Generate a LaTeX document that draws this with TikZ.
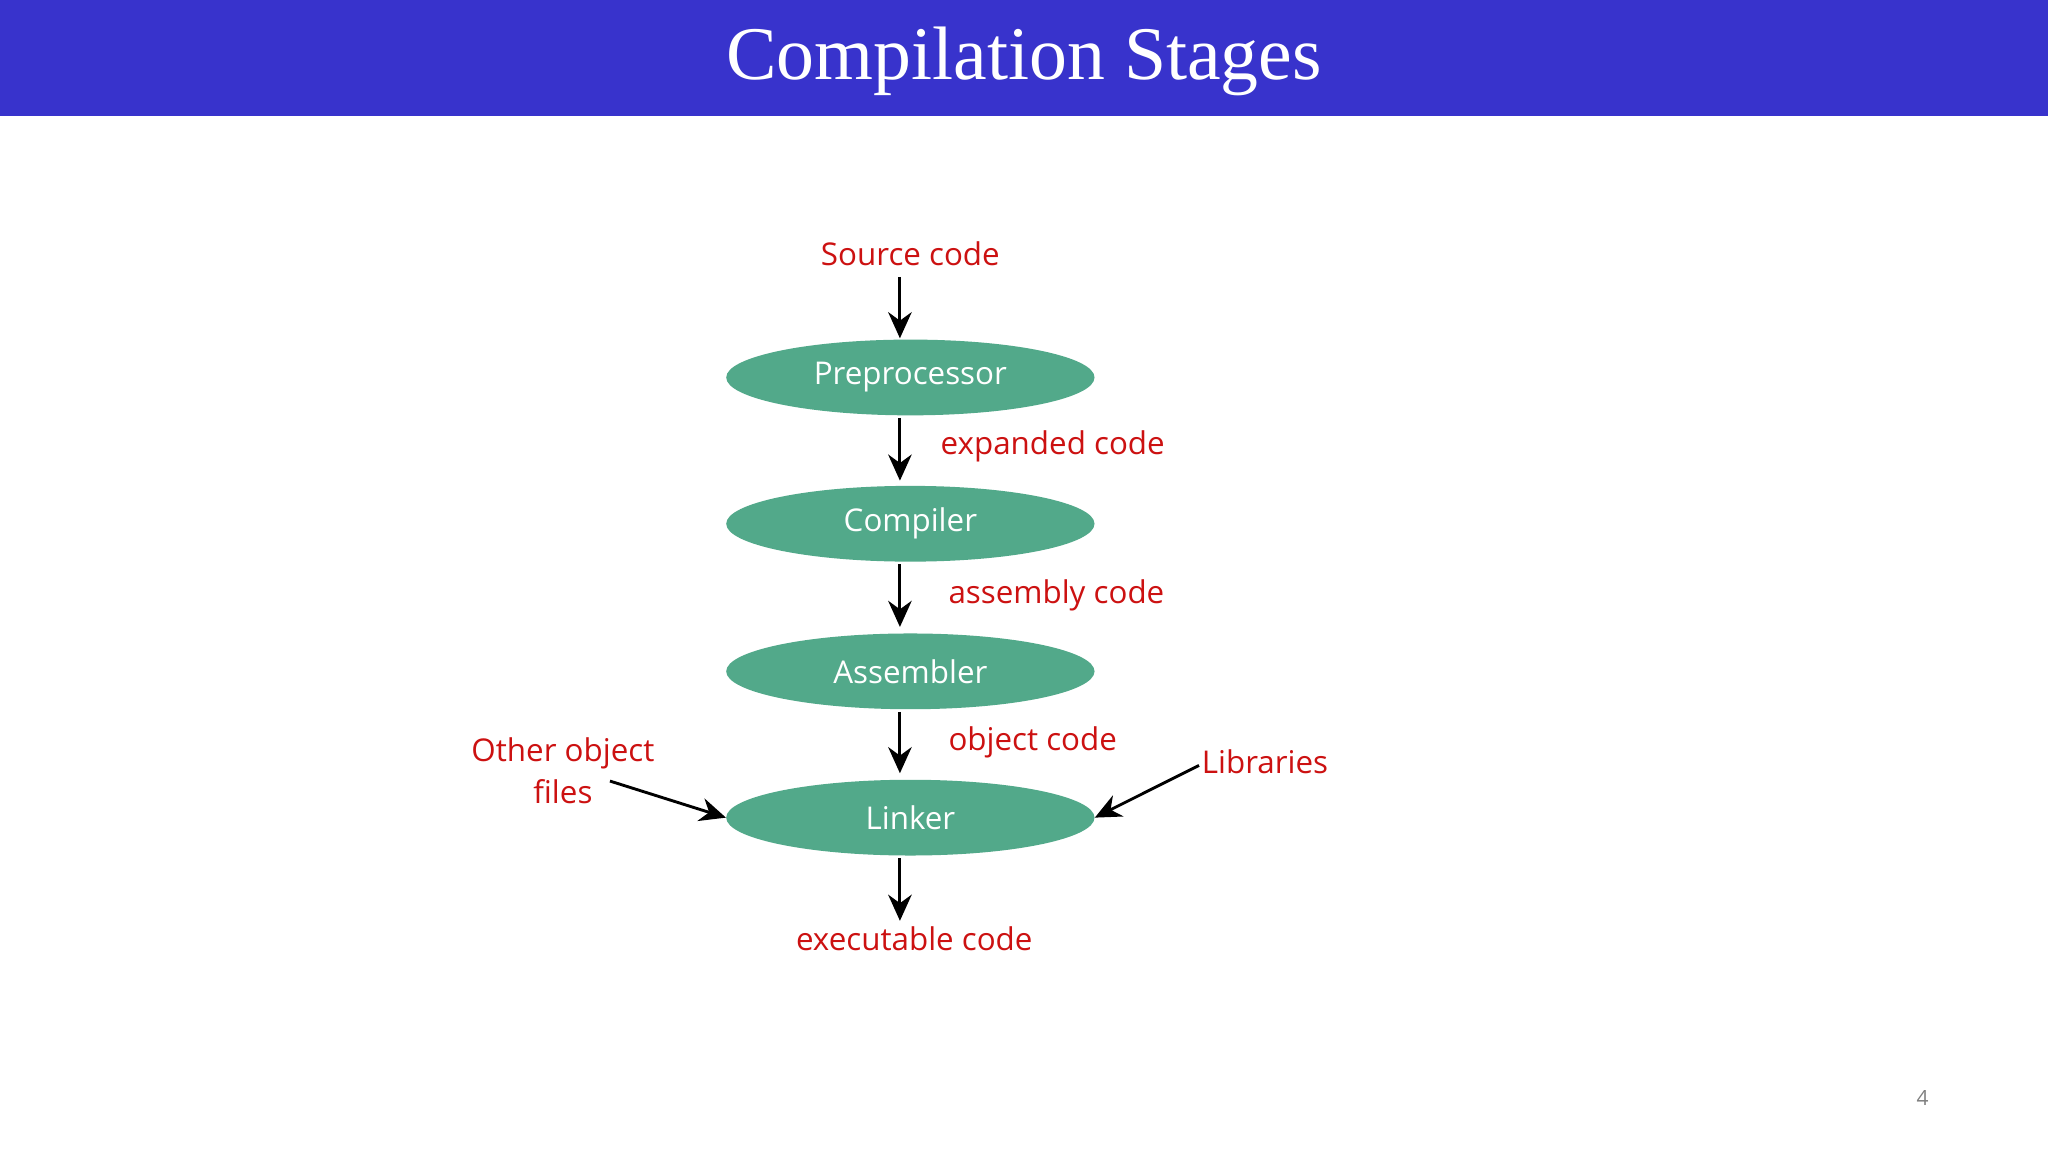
\documentclass[tikz,border=0pt]{standalone}
\usepackage{fontspec}
\setmainfont{Liberation Serif}
\newfontfamily\lab{Open Sans}
\usetikzlibrary{arrows.meta,shapes.geometric}
\definecolor{bar}{HTML}{3833CC}
\definecolor{stage}{HTML}{52A98A}
\definecolor{lbl}{HTML}{CC1111}
\begin{document}
\begin{tikzpicture}[x=1pt,y=-1pt,
  stage/.style={ellipse,fill=stage,minimum width=282pt,minimum height=58pt,inner sep=0pt,text=white,font=\lab\fontsize{24}{28}\selectfont},
  lbl/.style={text=lbl,font=\lab\fontsize{24}{30}\selectfont,inner sep=0pt},
  arr/.style={-{Stealth[length=20pt,width=18pt]},line width=2.2pt}]
\useasboundingbox (0,0) rectangle (1568,882);
\fill[white] (0,0) rectangle (1568,882);
\fill[bar] (0,0) rectangle (1568,89);
\node[text=white,font=\fontsize{58}{64}\selectfont] (title) at (784,47) {Compilation Stages};
\node[stage] (pre) at (697,289) {Preprocessor};
\node[stage] (comp) at (697,401) {Compiler};
\node[stage] (asm) at (697,514) {Assembler};
\node[stage] (link) at (697,626) {Linker};
\node[lbl] (src) at (697,194) {Source code};
\node[lbl,anchor=west] (exp) at (720,342) {expanded code};
\node[lbl,anchor=west] (ass) at (726,456) {assembly code};
\node[lbl,anchor=west] (obj) at (726,568) {object code};
\node[lbl,anchor=west] (libs) at (920,583) {Libraries};
\node[lbl,align=center,font=\lab\fontsize{24}{32}\selectfont] (other) at (431,590) {Other object\\files};
\node[lbl] (exe) at (700,719) {executable code};
\node[text=gray,font=\lab\fontsize{16}{18}\selectfont] (pg) at (1472,841) {4};
\coordinate (a1) at (689,212); \coordinate (b1) at (689,259);
\coordinate (a2) at (689,320); \coordinate (b2) at (689,368);
\coordinate (a3) at (689,432); \coordinate (b3) at (689,480);
\coordinate (a4) at (689,545); \coordinate (b4) at (689,592);
\coordinate (a5) at (689,657); \coordinate (b5) at (689,705);
\draw[arr] (a1) -- (b1);
\draw[arr] (a2) -- (b2);
\draw[arr] (a3) -- (b3);
\draw[arr] (a4) -- (b4);
\draw[arr] (a5) -- (b5);
\coordinate (o1) at (467,598); \coordinate (l1) at (918,586);
\draw[arr] (o1) -- (link.west);
\draw[arr] (l1) -- (link.east);
\end{tikzpicture}
\end{document}
